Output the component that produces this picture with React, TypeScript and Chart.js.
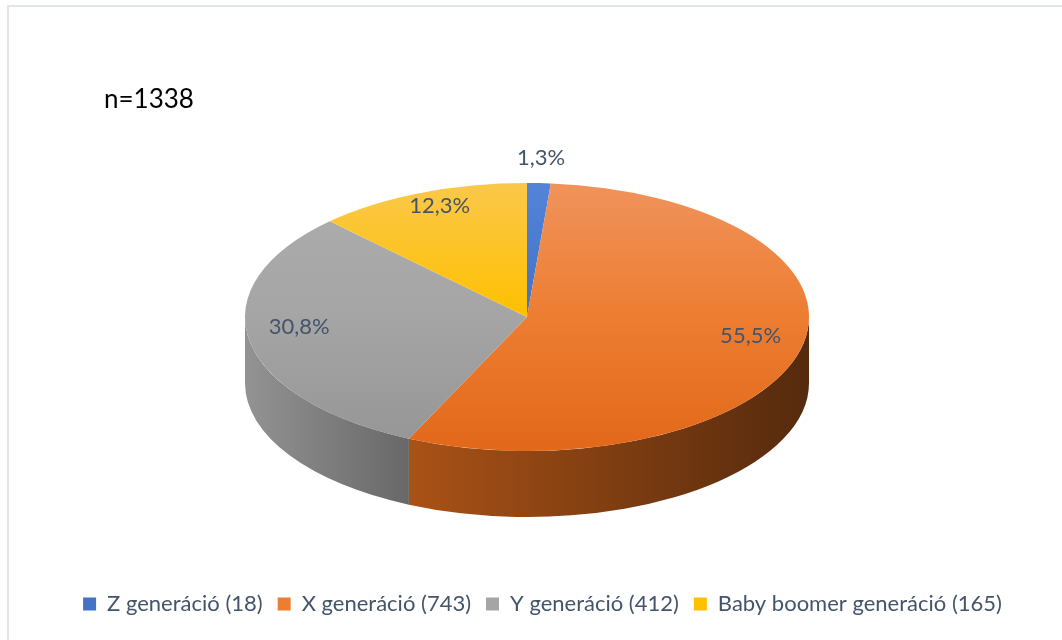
import React, { useEffect, useRef } from 'react';
import { Chart, registerables } from 'chart.js';

Chart.register(...registerables);

// ---- data ----
const categories = [
  'Z generáció (18)',
  'X generáció (743)',
  'Y generáció (412)',
  'Baby boomer generáció (165)',
];
const counts = [18, 743, 412, 165];
const sampleSizeLabel = 'n=1338';

// ---- styles ----
const baseColors = ['#4472C4', '#ED7D31', '#A5A5A5', '#FFC000'];
const topLight = ['#5384d8', '#f0935c', '#adadad', '#fac84a'];
const topDark = ['#3c66b3', '#e2681a', '#959595', '#f2b500'];
const sideLight = ['#30528f', '#aa5216', '#939393', '#b88a00'];
const sideDark = ['#1d3357', '#552a0d', '#686868', '#6e5200'];
const textColor = '#44546A';
const FONT = 'Lato, "Noto Sans", sans-serif';

// layout of the tilted pie
const CX = 527;
const CY = 317;
const RADIUS = 282;
const K = 134 / 282;
const DEPTH = 66;
const LABEL_SIZE = 22;
const LABEL_LIFT = 9;

const total = counts.reduce((a, b) => a + b, 0);
const pctText = (v: number) => ((v / total) * 100).toFixed(1).replace('.', ',') + '%';

const pie3d = {
  id: 'pie3d',
  beforeDatasetsDraw(chart: any) {
    const meta = chart.getDatasetMeta(0);
    const arcs = meta.data;
    const ctx = chart.ctx as CanvasRenderingContext2D;
    const R = arcs[0].outerRadius;
    const RY = R * K;
    arcs.forEach((arc: any, i: number) => {
      const s = Math.max(arc.startAngle, 0);
      const e = Math.min(arc.endAngle, Math.PI);
      if (e <= s) return;
      const x1 = CX + R * Math.cos(e);
      const x2 = CX + R * Math.cos(s);
      const g = ctx.createLinearGradient(Math.min(x1, x2), 0, Math.max(x1, x2), 0);
      g.addColorStop(0, sideLight[i]);
      g.addColorStop(1, sideDark[i]);
      ctx.save();
      ctx.beginPath();
      ctx.ellipse(CX, CY, R, RY, 0, s, e, false);
      ctx.ellipse(CX, CY + DEPTH, R, RY, 0, e, s, true);
      ctx.closePath();
      ctx.fillStyle = g;
      ctx.fill();
      ctx.restore();
    });
    const cx0 = arcs[0].x;
    const cy0 = arcs[0].y;
    ctx.save();
    ctx.translate(CX - cx0, CY);
    ctx.scale(1, K);
    ctx.translate(0, -cy0);
  },
  afterDatasetsDraw(chart: any) {
    const ctx = chart.ctx as CanvasRenderingContext2D;
    ctx.restore();
    const arcs = chart.getDatasetMeta(0).data;
    const R = arcs[0].outerRadius;
    const RY = R * K;
    ctx.save();
    ctx.font = `${LABEL_SIZE}px ${FONT}`;
    ctx.fillStyle = textColor;
    ctx.textAlign = 'center';
    ctx.textBaseline = 'middle';
    arcs.forEach((arc: any, i: number) => {
      const mid = (arc.startAngle + arc.endAngle) / 2;
      const share = counts[i] / total;
      const outside = share < 0.03;
      const r = outside ? 1.19 : 0.82;
      const lift = outside ? 0 : LABEL_LIFT;
      const x = CX + R * r * Math.cos(mid);
      const y = CY + RY * r * Math.sin(mid) - lift;
      ctx.fillText(pctText(counts[i]), x, y);
    });
    ctx.restore();
  },
  afterDraw(chart: any) {
    const ctx = chart.ctx as CanvasRenderingContext2D;
    ctx.save();
    ctx.font = `26px ${FONT}`;
    ctx.fillStyle = '#000000';
    ctx.textAlign = 'left';
    ctx.textBaseline = 'alphabetic';
    ctx.fillText(sampleSizeLabel, 104, 108);
    ctx.restore();
  },
};

export default function App() {
  const ref = useRef<HTMLCanvasElement>(null);
  useEffect(() => {
    if (!ref.current) return;
    const chart = new Chart(ref.current, {
      type: 'pie',
      data: {
        labels: categories,
        datasets: [
          {
            data: counts,
            backgroundColor: (c: any) => {
              const i = c.dataIndex ?? 0;
              const area = c.chart.chartArea;
              if (!area) return baseColors[i];
              const cy0 = (area.top + area.bottom) / 2;
              const g = c.chart.ctx.createLinearGradient(0, cy0 - RADIUS, 0, cy0 + RADIUS);
              g.addColorStop(0, topLight[i]);
              g.addColorStop(0.5, baseColors[i]);
              g.addColorStop(1, topDark[i]);
              return g;
            },
            borderWidth: 0,
            clip: false,
          } as any,
        ],
      },
      options: {
        responsive: false,
        animation: false,
        events: [],
        radius: RADIUS,
        layout: { padding: { left: 23, right: 0, top: 16, bottom: 15 } },
        plugins: {
          tooltip: { enabled: false },
          title: { display: false },
          legend: {
            display: true,
            position: 'bottom',
            labels: {
              boxWidth: 13,
              boxHeight: 13,
              padding: 15,
              color: textColor,
              font: { family: FONT, size: LABEL_SIZE },
              generateLabels: () =>
                categories.map((text, i) => ({
                  text,
                  fillStyle: baseColors[i],
                  strokeStyle: baseColors[i],
                  lineWidth: 0,
                  hidden: false,
                  index: i,
                  fontColor: textColor,
                })),
            },
          },
        },
      } as any,
      plugins: [pie3d],
    });
    return () => chart.destroy();
  }, []);

  return (
    <div
      style={{
        position: 'fixed',
        left: 0,
        top: 0,
        width: 1062,
        height: 640,
        overflow: 'hidden',
        background: '#ffffff',
      }}
    >
      <div
        style={{
          position: 'absolute',
          left: 7,
          top: 5,
          width: 1100,
          height: 700,
          border: '2px solid #e2e6ec',
          boxSizing: 'border-box',
        }}
      />
      <canvas
        ref={ref}
        width={1062}
        height={640}
        style={{ position: 'absolute', left: 0, top: 0 }}
      />
    </div>
  );
}
